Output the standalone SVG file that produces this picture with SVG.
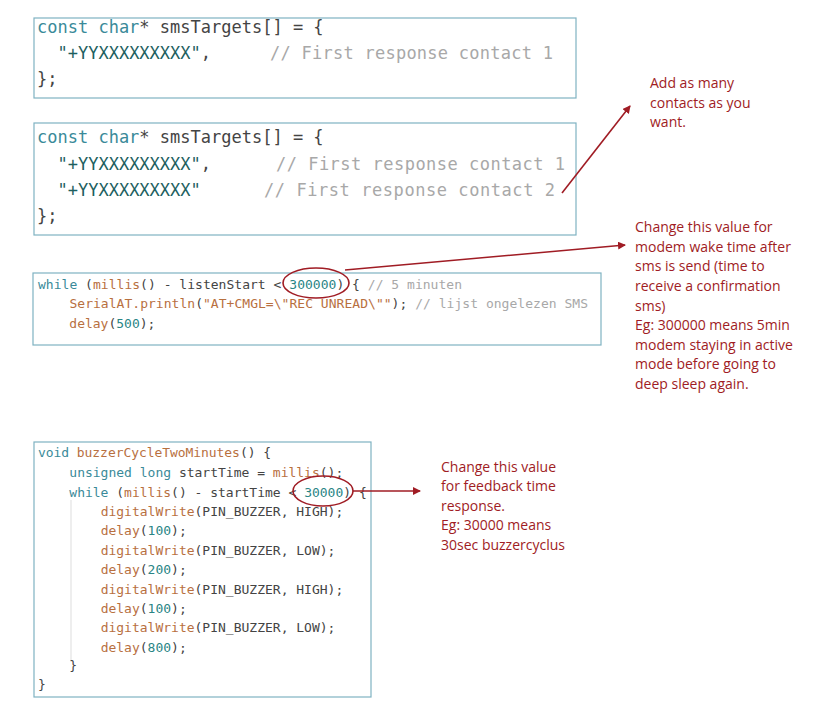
<svg xmlns="http://www.w3.org/2000/svg" width="820" height="715" viewBox="0 0 820 715">
<style>
.box{fill:#fff;stroke:#7fb2c2;stroke-width:1.2}
.code{font-family:"DejaVu Sans Mono","Liberation Mono",monospace;fill:#444;white-space:pre}
.big{font-size:17px}
.sm{font-size:13px}
.k{fill:#3a8a99}
.f{fill:#b8703f}
.s{fill:#1e5f5f}
.c{fill:#a8a8a8}
.n{fill:#2a8585}
.note{font-family:"Open Sans","Liberation Sans",sans-serif;font-size:14px;fill:#a01c24}
.ln{stroke:#a01c24;stroke-width:1.6;fill:none}
</style>
<defs><marker id="ah" markerWidth="8" markerHeight="8" refX="7" refY="4" orient="auto" markerUnits="userSpaceOnUse"><path d="M0,0 L8,4 L0,8 Z" fill="#a01c24"/></marker></defs>
<rect width="820" height="715" fill="#fff"/>
<g id="code1"><rect class="box" x="34" y="18" width="542" height="80"/>
<text class="code big" x="37" y="33"><tspan class="k">const char</tspan>* smsTargets[] = {</text>
<text class="code big" x="37" y="59">  <tspan class="s">"+YYXXXXXXXXX"</tspan>,</text>
<text class="code big c" x="270" y="59" textLength="283">// First response contact 1</text>
<text class="code big" x="37" y="85">};</text></g>
<g id="code2"><rect class="box" x="34" y="123" width="542" height="112"/>
<text class="code big" x="37" y="143"><tspan class="k">const char</tspan>* smsTargets[] = {</text>
<text class="code big" x="37" y="170">  <tspan class="s">"+YYXXXXXXXXX"</tspan>,</text>
<text class="code big c" x="276" y="170" textLength="289">// First response contact 1</text>
<text class="code big" x="37" y="196">  <tspan class="s">"+YYXXXXXXXXX"</tspan></text>
<text class="code big c" x="264" y="196" textLength="291">// First response contact 2</text>
<text class="code big" x="37" y="222">};</text></g>
<g id="code3"><rect class="box" x="33" y="273" width="568" height="72"/>
<text class="code sm" x="38" y="289" textLength="424"><tspan class="k">while</tspan> (<tspan class="f">millis</tspan>() - listenStart &lt; <tspan class="n">300000</tspan>) { <tspan class="c">// 5 minuten</tspan></text>
<text class="code sm" x="38" y="308" textLength="550">    <tspan class="f">SerialAT.println</tspan>(<tspan class="f">"AT+CMGL=\"REC UNREAD\""</tspan>); <tspan class="c">// lijst ongelezen SMS</tspan></text>
<text class="code sm" x="38" y="328">    <tspan class="f">delay</tspan>(<tspan class="n">500</tspan>);</text></g>
<g id="code4"><rect class="box" x="34" y="442" width="337" height="255"/>
<line x1="71" y1="500" x2="71" y2="662" stroke="#ddd"/>
<text class="code sm" x="38" y="457" textLength="233"><tspan class="k">void</tspan> <tspan class="f">buzzerCycleTwoMinutes</tspan>() {</text>
<text class="code sm" x="38" y="477">    <tspan class="k">unsigned long</tspan> startTime = <tspan class="f">millis</tspan>();</text>
<text class="code sm" x="38" y="497">    <tspan class="k">while</tspan> (<tspan class="f">millis</tspan>() - startTime &lt; <tspan class="n">30000</tspan>) {</text>
<text class="code sm" x="38" y="516">        <tspan class="f">digitalWrite</tspan>(PIN_BUZZER, HIGH);</text>
<text class="code sm" x="38" y="535">        <tspan class="f">delay</tspan>(<tspan class="n">100</tspan>);</text>
<text class="code sm" x="38" y="555">        <tspan class="f">digitalWrite</tspan>(PIN_BUZZER, LOW);</text>
<text class="code sm" x="38" y="574">        <tspan class="f">delay</tspan>(<tspan class="n">200</tspan>);</text>
<text class="code sm" x="38" y="594">        <tspan class="f">digitalWrite</tspan>(PIN_BUZZER, HIGH);</text>
<text class="code sm" x="38" y="613">        <tspan class="f">delay</tspan>(<tspan class="n">100</tspan>);</text>
<text class="code sm" x="38" y="632">        <tspan class="f">digitalWrite</tspan>(PIN_BUZZER, LOW);</text>
<text class="code sm" x="38" y="652">        <tspan class="f">delay</tspan>(<tspan class="n">800</tspan>);</text>
<text class="code sm" x="38" y="670">    }</text>
<text class="code sm" x="38" y="689">}</text></g>
<g id="note1"><text class="note"><tspan x="650" y="88">Add as many</tspan><tspan x="650" y="108">contacts as you</tspan><tspan x="650" y="127">want.</tspan></text></g>
<g id="note2"><text class="note"><tspan x="635" y="232">Change this value for</tspan><tspan x="635" y="252">modem wake time after</tspan><tspan x="635" y="271">sms is send (time to</tspan><tspan x="635" y="291">receive a confirmation</tspan><tspan x="635" y="311">sms)</tspan><tspan x="635" y="330">Eg: 300000 means 5min</tspan><tspan x="635" y="350">modem staying in active</tspan><tspan x="635" y="369">mode before going to</tspan><tspan x="635" y="389">deep sleep again.</tspan></text></g>
<g id="note3"><text class="note"><tspan x="441" y="472">Change this value</tspan><tspan x="441" y="491">for feedback time</tspan><tspan x="441" y="511">response.</tspan><tspan x="441" y="530">Eg: 30000 means</tspan><tspan x="441" y="550">30sec buzzercyclus</tspan></text></g>
<g id="connectors">
<ellipse class="ln" cx="316" cy="283" rx="33" ry="15"/>
<ellipse class="ln" cx="323" cy="491" rx="30" ry="15"/>
<line class="ln" x1="562" y1="193" x2="630" y2="106" marker-end="url(#ah)"/>
<line class="ln" x1="345" y1="270" x2="625" y2="245" marker-end="url(#ah)"/>
<line class="ln" x1="353" y1="491" x2="420" y2="491" marker-end="url(#ah)"/>
</g>
</svg>
